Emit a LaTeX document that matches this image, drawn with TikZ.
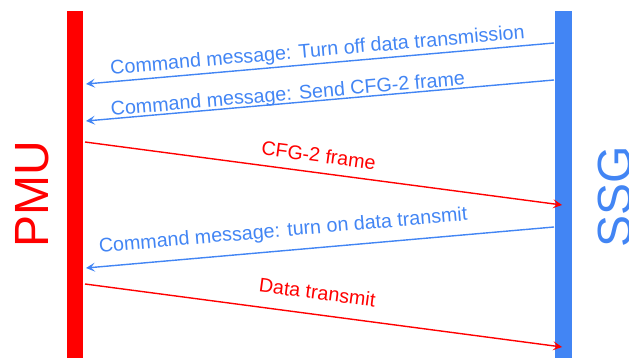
\documentclass[tikz,border=0pt]{standalone}
\usepackage{fontspec}
\setmainfont{Liberation Sans}
\usetikzlibrary{arrows.meta}
\definecolor{pmured}{RGB}{255,0,0}
\definecolor{ssgblue}{RGB}{66,133,244}
\tikzstyle{lane}=[
	rectangle,
	inner sep=0pt,
	minimum width=16pt,
	minimum height=347pt
]
\tikzstyle{msg}=[
	-{Stealth[length=9pt,width=9pt,inset=4pt]},
	line width=1.4pt
]
\tikzstyle{lbl}=[
	sloped,
	inner sep=0pt,
	anchor=base,
	font=\fontsize{19.7}{23}\selectfont
]
\tikzstyle{side}=[
	rotate=90,
	inner sep=0pt,
	font=\fontsize{48}{56}\selectfont
]

\begin{document}
\begin{tikzpicture}[x=1pt,y=-1pt]
\useasboundingbox (0,0) rectangle (629,358);

% PMU lane
\node[lane,fill=pmured] (pmu) at (75,184.5){};
\node[side,text=pmured] (pmuname) at (32,194){PMU};

% SSG lane
\node[lane,fill=ssgblue,minimum width=17pt] (ssg) at (563.5,184.5){};
\node[side,text=ssgblue] (ssgname) at (615,196.5){SSG};

% End points on the lanes
\coordinate (s1) at (554,43);  \coordinate (p1) at (86,84);
\coordinate (s2) at (554,80);  \coordinate (p2) at (86,121);
\coordinate (p3) at (85,142);  \coordinate (s3) at (562,205);
\coordinate (s4) at (554,227); \coordinate (p4) at (86,268);
\coordinate (p5) at (85,284);  \coordinate (s5) at (562,347);

% Turn off data transmission
\draw[msg,ssgblue] (s1) -- node[pos=0.503,above=7pt,lbl,text=ssgblue]{Command message: Turn off data transmission}(p1);

% Send CFG-2 frame
\draw[msg,ssgblue] (s2) -- node[pos=0.567,above=3pt,lbl,text=ssgblue]{Command message: Send CFG-2 frame}(p2);

% CFG-2 frame
\draw[msg,pmured] (p3) -- node[pos=0.485,above=10.5pt,lbl,text=pmured]{CFG-2 frame}(s3);

% Turn on data transmit
\draw[msg,ssgblue] (s4) -- node[pos=0.575,above=14pt,lbl,text=ssgblue]{Command message: turn on data transmit}(p4);

% Data transmit
\draw[msg,pmured] (p5) -- node[pos=0.481,above=15pt,lbl,text=pmured]{Data transmit}(s5);

\end{tikzpicture}
\end{document}
